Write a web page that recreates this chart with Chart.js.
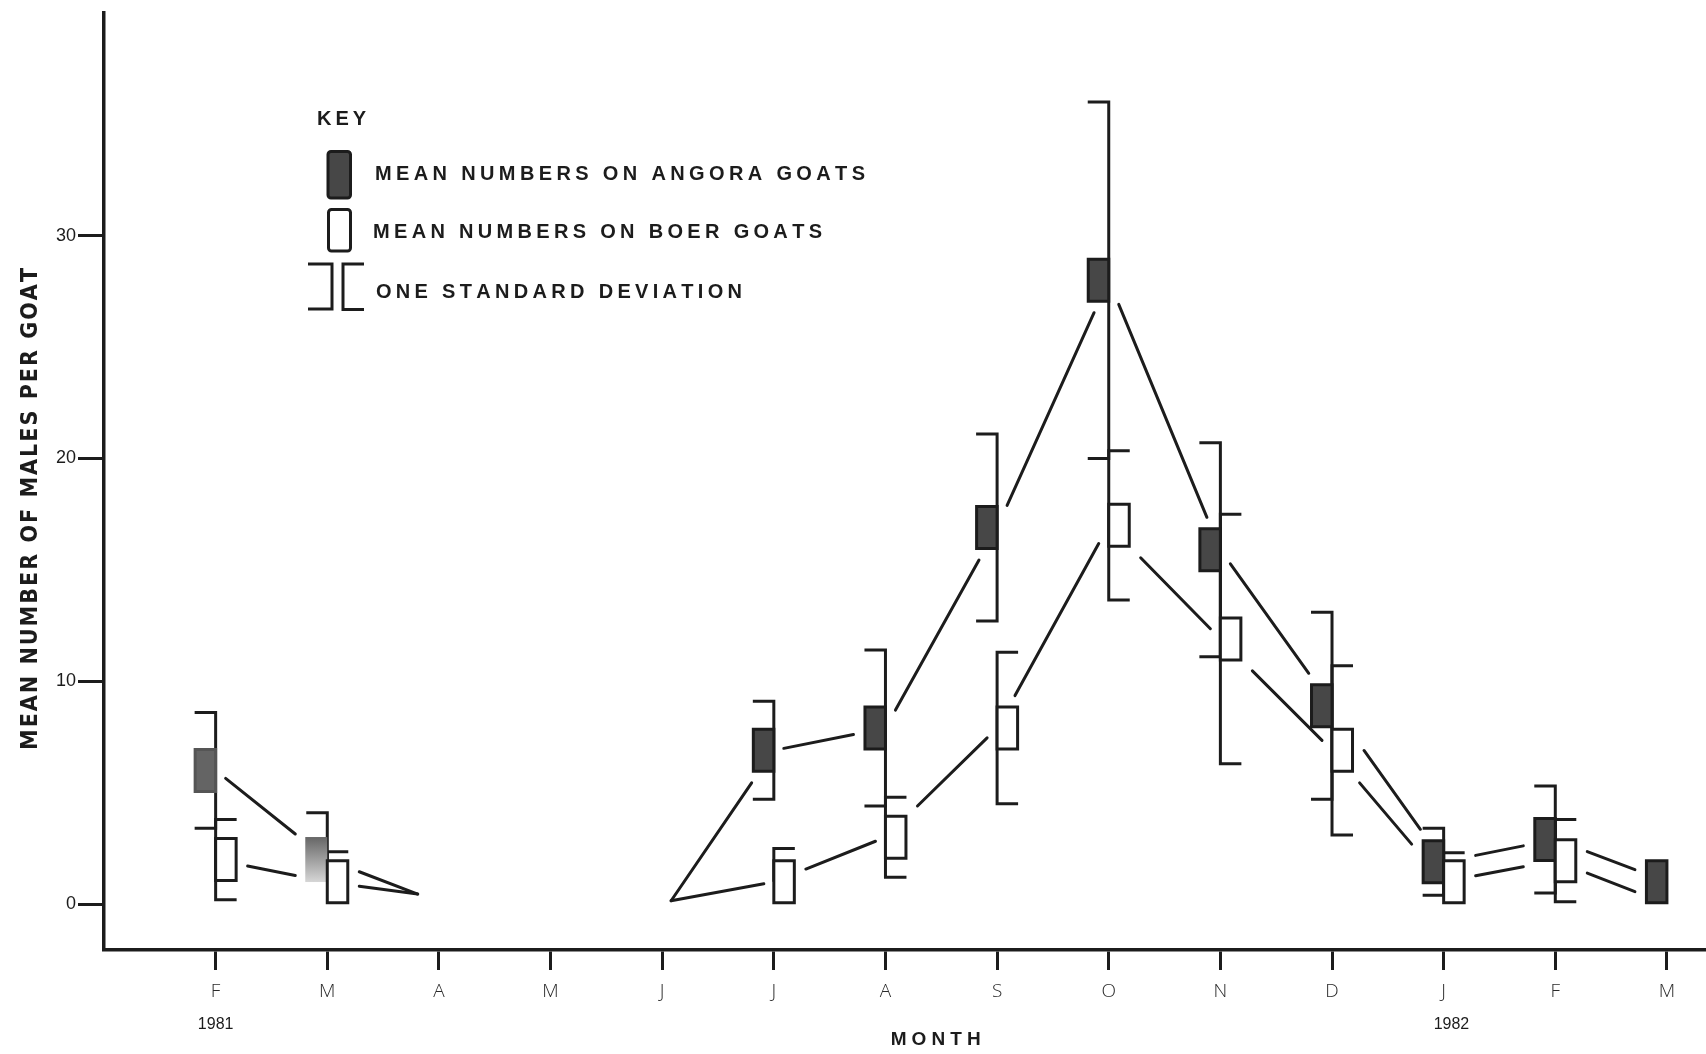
<!DOCTYPE html>
<html>
<head>
<meta charset="utf-8">
<script src="https://cdn.jsdelivr.net/npm/chart.js@4.4.1/dist/chart.umd.min.js"></script>
<style>
    html, body { margin: 0; padding: 0; background: #ffffff; }
    #wrap { width: 1706px; height: 1054px; }
</style>
</head>
<body>
<div id="wrap"><canvas id="chart" width="1706" height="1054"></canvas></div>
<script>
// Months sampled, Feb 1981 to Mar 1982
const months = ['F', 'M', 'A', 'M', 'J', 'J', 'A', 'S', 'O', 'N', 'D', 'J', 'F', 'M'];
const yearLabels = [[0, '1981'], [11.07, '1982']];
const yTicks = [0, 10, 20, 30];

// Mean males per goat and one standard deviation
const angoraMean = [6.0, 2.0, null, null, null, 6.9, 7.9, 16.9, 28.0, 15.9, 8.9, 1.9, 2.9, 1.0];
const angoraSd   = [2.6, 2.1, null, null, null, 2.2, 3.5, 4.2, 8.0, 4.8, 4.2, 1.5, 2.4, null];
const boerMean   = [2.0, 1.0, null, null, null, 1.0, 3.0, 7.9, 17.0, 11.9, 6.9, 1.0, 1.95, null];
const boerSd     = [1.8, 1.35, null, null, null, 1.5, 1.8, 3.4, 3.35, 5.6, 3.8, 1.3, 1.85, null];

// Where a trend line runs out with no box drawn: [month position, value]
const angoraLooseEnds = [[1.81, 0.45], [4.08, 0.15]];
const boerLooseEnds   = [[1.81, 0.45], [4.08, 0.15], [13, 0]];

// Drawing constants
const INK = '#1c1c1c';
const BOX_W = 22;
const BOX_H = 45;
const CAP = 21;
const GAP = 10;

// Draws text with its letters spread to fill a given width
function spacedText(ctx, text, left, midY, width, capH) {
    const chars = [...text];
    const widths = chars.map(c => ctx.measureText(c).width);
    const total = widths.reduce((a, b) => a + b, 0);
    const gap = chars.length > 1 ? (width - total) / (chars.length - 1) : 0;
    let x = left;
    ctx.textAlign = 'left';
    ctx.textBaseline = 'alphabetic';
    chars.forEach((c, i) => {
        ctx.fillText(c, x, midY + capH / 2);
        x += widths[i] + gap;
    });
}

// Box rectangle for a month; angora sits left of the tick, boer right
function boxRect(xs, ys, i, value, side) {
    const t = xs.getPixelForValue(i);
    const yc = ys.getPixelForValue(value);
    const l = side === 'left' ? t - BOX_W : t;
    return { l: l, r: l + BOX_W, t: yc - BOX_H / 2, b: yc + BOX_H / 2 };
}

function grow(r, m) {
    return { l: r.l - m, r: r.r + m, t: r.t - m, b: r.b + m };
}

// Parameter span of segment p->q inside rectangle r
function rectSpan(p, q, r) {
    let t0 = -Infinity, t1 = Infinity;
    const d = [q.x - p.x, q.y - p.y];
    const lo = [r.l - p.x, r.t - p.y];
    const hi = [r.r - p.x, r.b - p.y];
    for (let k = 0; k < 2; k++) {
        if (d[k] === 0) {
            if (lo[k] > 0 || hi[k] < 0) return null;
            continue;
        }
        let a = lo[k] / d[k], b = hi[k] / d[k];
        if (a > b) [a, b] = [b, a];
        t0 = Math.max(t0, a);
        t1 = Math.min(t1, b);
    }
    return t0 <= t1 ? [t0, t1] : null;
}

// Splits a series into runs of points joined by a line
function trendRuns(means, ends) {
    const pts = [];
    means.forEach((v, i) => { if (v !== null) pts.push([i, v]); });
    ends.forEach(p => pts.push(p));
    pts.sort((a, b) => a[0] - b[0]);
    const runs = [[]];
    pts.forEach((p, k) => {
        if (k > 0 && p[0] - pts[k - 1][0] > 1.5) runs.push([]);
        runs[runs.length - 1].push(p);
    });
    return runs;
}

const goatPlot = {
    id: 'goatPlot',
    afterDatasetsDraw(chart) {
        const ctx = chart.ctx;
        const xs = chart.scales.x;
        const ys = chart.scales.y;

        // every box, grown by the gap, keeps the trend lines off it
        const obstacles = [];
        months.forEach((m, i) => {
            if (angoraMean[i] !== null) obstacles.push(grow(boxRect(xs, ys, i, angoraMean[i], 'left'), GAP));
            if (boerMean[i] !== null) obstacles.push(grow(boxRect(xs, ys, i, boerMean[i], 'right'), GAP));
        });

        ctx.save();
        ctx.strokeStyle = INK;
        ctx.lineWidth = 3;
        ctx.lineCap = 'round';

        // trend lines
        [[angoraMean, angoraLooseEnds], [boerMean, boerLooseEnds]].forEach(([means, ends]) => {
            trendRuns(means, ends).forEach(run => {
                for (let k = 0; k < run.length - 1; k++) {
                    const p = { x: xs.getPixelForValue(run[k][0]), y: ys.getPixelForValue(run[k][1]) };
                    const q = { x: xs.getPixelForValue(run[k + 1][0]), y: ys.getPixelForValue(run[k + 1][1]) };
                    let a = 0, b = 1, moved = true;
                    while (moved) {
                        moved = false;
                        obstacles.forEach(r => {
                            const s = rectSpan(p, q, r);
                            if (!s) return;
                            if (s[0] <= a + 1e-6 && s[1] > a) { a = s[1]; moved = true; }
                            if (s[1] >= b - 1e-6 && s[0] < b) { b = s[0]; moved = true; }
                        });
                    }
                    if (a >= b) continue;
                    ctx.beginPath();
                    ctx.moveTo(p.x + (q.x - p.x) * a, p.y + (q.y - p.y) * a);
                    ctx.lineTo(p.x + (q.x - p.x) * b, p.y + (q.y - p.y) * b);
                    ctx.stroke();
                }
            });
        });

        // standard deviation brackets: angora "]" and boer "["
        ctx.lineCap = 'butt';
        ctx.lineJoin = 'miter';
        [[angoraMean, angoraSd, -1], [boerMean, boerSd, 1]].forEach(([means, sds, dir]) => {
            means.forEach((v, i) => {
                if (v === null || sds[i] === null) return;
                const t = xs.getPixelForValue(i);
                const hi = ys.getPixelForValue(v + sds[i]);
                const low = v - sds[i];
                ctx.beginPath();
                ctx.moveTo(t + dir * CAP, hi);
                ctx.lineTo(t, hi);
                if (low >= 0) {
                    const lo = ys.getPixelForValue(low);
                    ctx.lineTo(t, lo);
                    ctx.lineTo(t + dir * CAP, lo);
                } else {
                    ctx.lineTo(t, ys.getPixelForValue(v));
                }
                ctx.stroke();
            });
        });

        // mean boxes
        angoraMean.forEach((v, i) => {
            if (v === null) return;
            const r = boxRect(xs, ys, i, v, 'left');
            if (i === 1) {
                // worn print: faded fill, no outline
                const g = ctx.createLinearGradient(0, r.t, 0, r.b);
                g.addColorStop(0, '#666666');
                g.addColorStop(1, '#d6d6d6');
                ctx.fillStyle = g;
                ctx.fillRect(r.l, r.t, BOX_W, BOX_H);
                return;
            }
            ctx.fillStyle = i === 0 ? '#646464' : '#474747';
            ctx.strokeStyle = i === 0 ? '#555555' : INK;
            ctx.beginPath();
            ctx.rect(r.l + 1.5, r.t + 1.5, BOX_W - 1.5, BOX_H - 3);
            ctx.fill();
            ctx.stroke();
        });
        ctx.strokeStyle = INK;
        boerMean.forEach((v, i) => {
            if (v === null) return;
            const r = boxRect(xs, ys, i, v, 'right');
            ctx.fillStyle = '#ffffff';
            ctx.beginPath();
            ctx.rect(r.l, r.t + 1.5, BOX_W - 1.5, BOX_H - 3);
            ctx.fill();
            ctx.stroke();
        });
        ctx.restore();
    },
    afterDraw(chart) {
        const ctx = chart.ctx;
        const xs = chart.scales.x;
        ctx.save();
        ctx.fillStyle = INK;

        // axis titles
        ctx.font = 'bold 23px "Liberation Sans Narrow", "DejaVu Sans Condensed", sans-serif';
        ctx.save();
        ctx.translate(28, 509);
        ctx.rotate(-Math.PI / 2);
        spacedText(ctx, 'MEAN NUMBER OF MALES PER GOAT', -241, 0, 482, 17);
        ctx.restore();

        ctx.font = 'bold 19px "Liberation Sans", sans-serif';
        spacedText(ctx, 'MONTH', xs.getPixelForValue(6.45) - 45, 1037.5, 90, 14);

        // years under the month ticks
        ctx.font = '16px "Liberation Sans", sans-serif';
        ctx.textAlign = 'center';
        ctx.textBaseline = 'middle';
        yearLabels.forEach(([pos, txt]) => ctx.fillText(txt, xs.getPixelForValue(pos), 1025));

        // key
        ctx.font = 'bold 20px "Liberation Sans", sans-serif';
        spacedText(ctx, 'KEY', 317, 117, 49, 15);
        spacedText(ctx, 'MEAN NUMBERS ON ANGORA GOATS', 375, 172, 490, 15);
        spacedText(ctx, 'MEAN NUMBERS ON BOER GOATS', 373, 230, 449, 15);
        spacedText(ctx, 'ONE STANDARD DEVIATION', 376, 290, 366, 15);

        ctx.lineWidth = 3;
        ctx.strokeStyle = INK;
        ctx.fillStyle = '#474747';
        ctx.beginPath();
        ctx.roundRect(328, 151.5, 22.5, 46.5, 3);
        ctx.fill();
        ctx.stroke();
        ctx.beginPath();
        ctx.roundRect(328.5, 209.5, 22, 41.5, 3);
        ctx.stroke();

        ctx.beginPath();
        ctx.moveTo(308, 264);
        ctx.lineTo(332, 264);
        ctx.lineTo(332, 309);
        ctx.lineTo(308, 309);
        ctx.moveTo(364, 264);
        ctx.lineTo(343, 264);
        ctx.lineTo(343, 309.5);
        ctx.lineTo(364, 309.5);
        ctx.stroke();
        ctx.restore();
    }
};

const tickFont = { family: '"Liberation Sans", sans-serif', size: 18 };

new Chart(document.getElementById('chart'), {
    type: 'scatter',
    data: {
        datasets: [
            {
                label: 'Angora goats',
                data: angoraMean.map((v, i) => ({ x: i, y: v })).filter(p => p.y !== null),
                pointRadius: 0,
                showLine: false
            },
            {
                label: 'Boer goats',
                data: boerMean.map((v, i) => ({ x: i, y: v })).filter(p => p.y !== null),
                pointRadius: 0,
                showLine: false
            }
        ]
    },
    options: {
        responsive: false,
        devicePixelRatio: 1,
        animation: false,
        layout: { padding: { top: 9, right: 0, bottom: 0, left: 0 } },
        plugins: {
            legend: { display: false },
            tooltip: { enabled: false }
        },
        scales: {
            x: {
                type: 'linear',
                min: -1,
                max: 13.35,
                afterBuildTicks: scale => { scale.ticks = months.map((m, i) => ({ value: i })); },
                afterFit: scale => { scale.height = 104; },
                border: { color: INK, width: 3.5 },
                grid: { drawOnChartArea: false, drawTicks: true, tickLength: 20, tickWidth: 3, tickColor: INK },
                ticks: {
                    autoSkip: false,
                    maxRotation: 0,
                    padding: 10,
                    color: '#2a2a2a',
                    font: { family: '"Open Sans", "DejaVu Sans", sans-serif', size: 19, weight: '300' },
                    callback: v => months[v]
                }
            },
            y: {
                type: 'linear',
                min: -2.06,
                max: 40,
                afterBuildTicks: scale => { scale.ticks = yTicks.map(v => ({ value: v })); },
                afterFit: scale => { scale.width = 104; },
                border: { color: INK, width: 3.5 },
                grid: { drawOnChartArea: false, drawTicks: true, tickLength: 26, tickWidth: 3, tickColor: INK },
                ticks: { padding: 2, color: INK, font: tickFont }
            }
        }
    },
    plugins: [goatPlot]
});
</script>
</body>
</html>
